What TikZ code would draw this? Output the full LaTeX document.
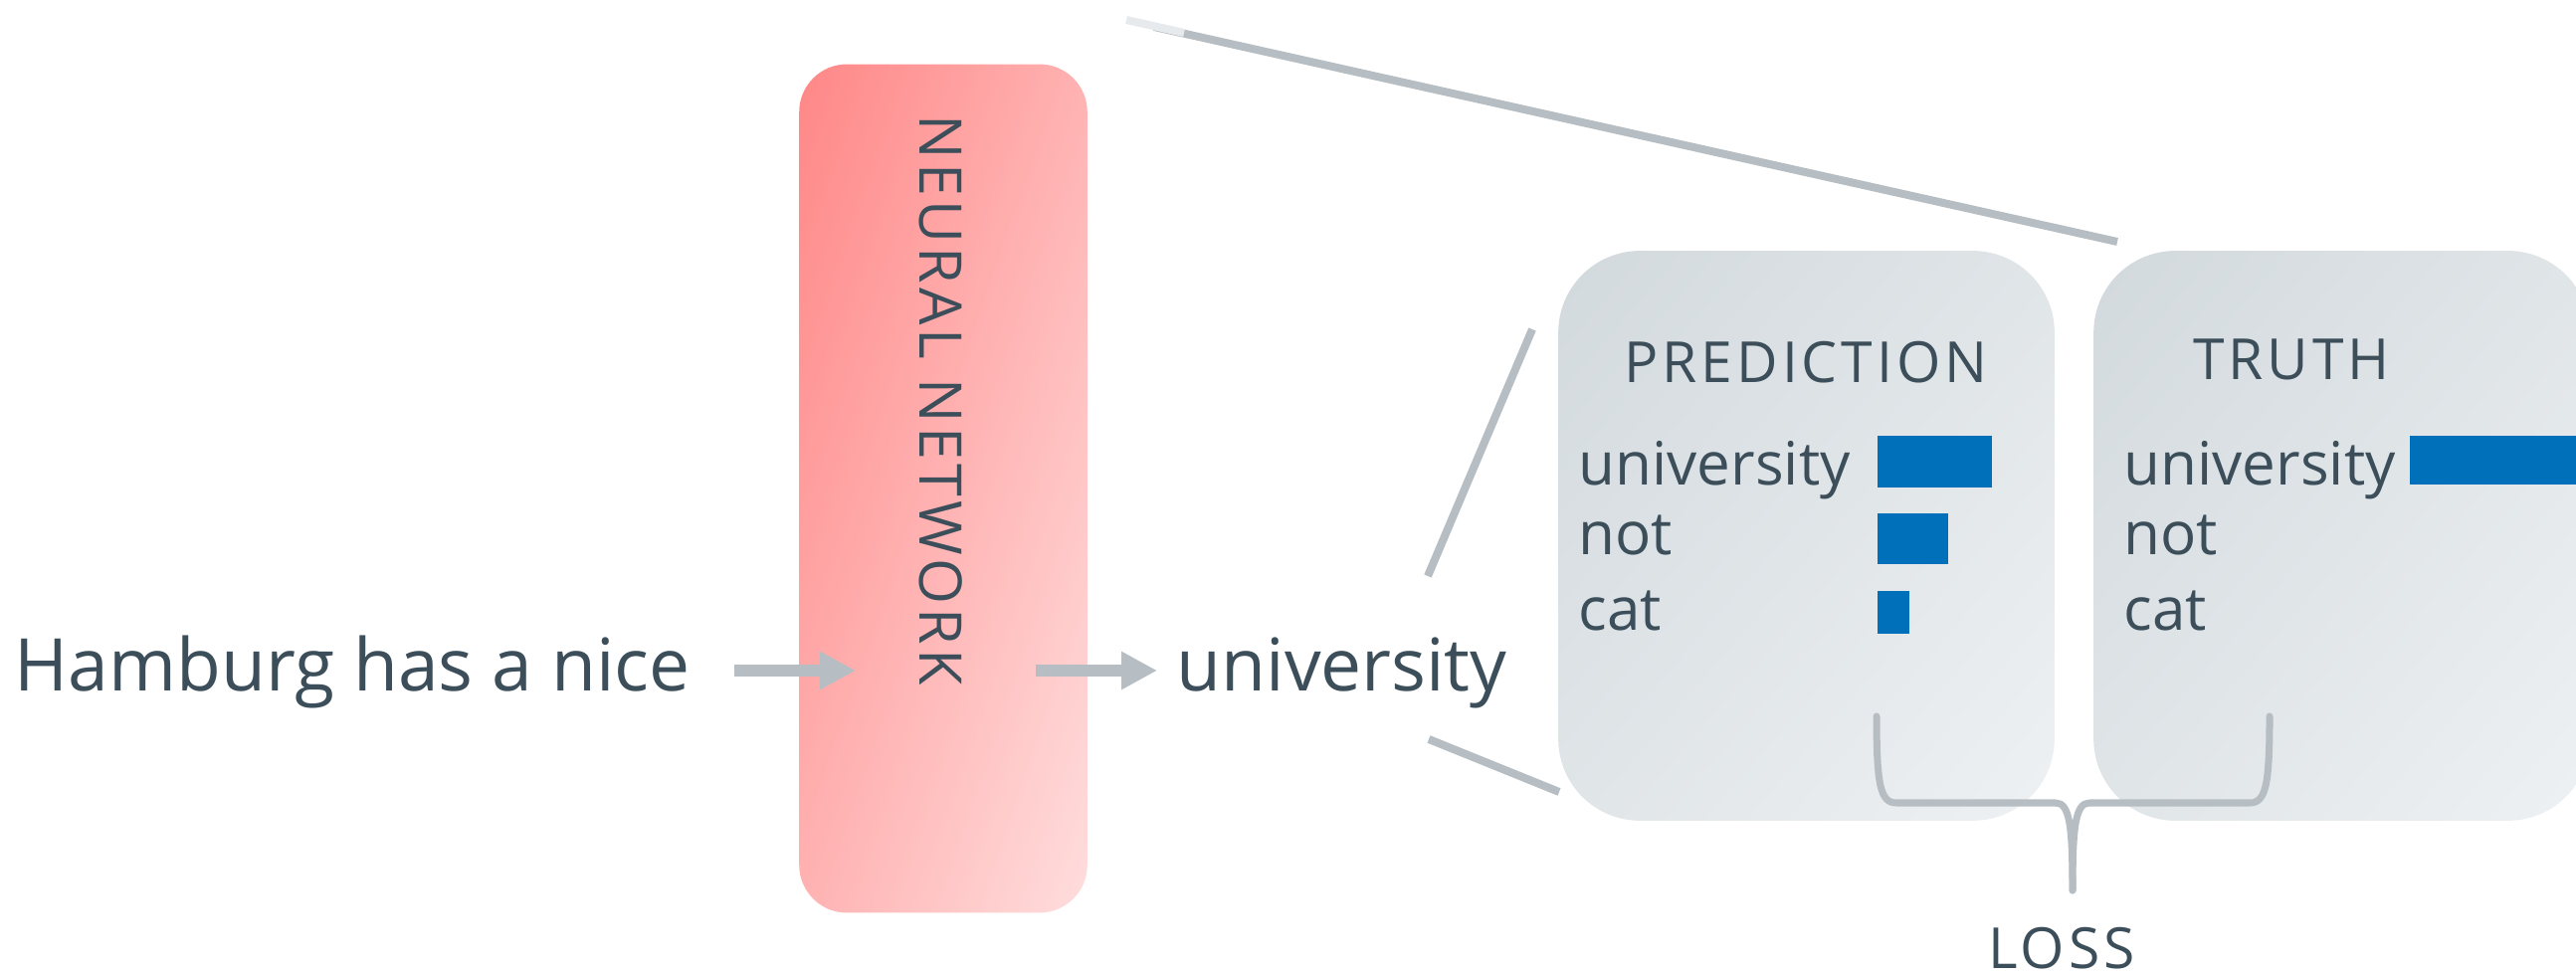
\documentclass[tikz,border=0pt]{standalone}
\usepackage{fontspec}
\setmainfont{Open Sans}
\newfontfamily\capsfont[LetterSpace=7]{Open Sans}
\usetikzlibrary{arrows.meta}

\definecolor{ink}{HTML}{3C4E5A}
\definecolor{wire}{HTML}{B6BEC3}
\definecolor{wirefade}{HTML}{E6EAEC}
\definecolor{barblue}{HTML}{0070BA}
\definecolor{nnA}{HTML}{FF8787}
\definecolor{nnB}{HTML}{FFDDDD}
\definecolor{boxA}{HTML}{D2D9DD}
\definecolor{boxB}{HTML}{EEF1F3}

\begin{document}
\begin{tikzpicture}[x=0.01cm,y=-0.01cm,
  txt/.style={inner sep=0pt, text=ink, anchor=base west},
  bigtxt/.style={txt, font=\fontsize{20.8pt}{24pt}\selectfont},
  rowtxt/.style={txt, font=\fontsize{17.1pt}{20pt}\selectfont},
  headtxt/.style={inner sep=0pt, text=ink, anchor=base, font=\capsfont\fontsize{16.2pt}{19pt}\selectfont},
  panel/.style={rectangle, minimum width=4.97cm, minimum height=5.71cm, inner sep=0pt},
  netbox/.style={rectangle, minimum width=2.88cm, minimum height=8.51cm, inner sep=0pt},
  flow/.style={wire, line width=0.12cm, -{Triangle[length=0.36cm, width=0.36cm]}},
  zoomline/.style={wire, line width=0.08cm},
  bracket/.style={wire, line width=0.07cm, line cap=round, line join=round},
  bar/.style={fill=barblue}
]
\useasboundingbox (0,0) rectangle (2589,980);

% neural network block: diagonal gradient from the top-left to the bottom-right corner
\node[netbox] (nn) at (948,491) {};
\begin{scope}
  \clip[rounded corners=0.48cm] (nn.south west) rectangle (nn.north east);
  \begin{scope}[transform canvas={rotate around={-18.7:(nn.center)}}]
    \shade[left color=nnA, right color=nnB] (675,42) rectangle (1221,940);
  \end{scope}
\end{scope}
\node[inner sep=0pt, text=ink, anchor=west, rotate=-90,
      font=\capsfont\fontsize{16.8pt}{19pt}\selectfont] (nnlabel) at (946,115) {NEURAL NETWORK};

% input and output words
\node[bigtxt] (input) at (14,695) {Hamburg has a nice};
\node[bigtxt] (output) at (1182,695) {university};

\coordinate (a1s) at (738,674);
\coordinate (a1e) at (860,674);
\coordinate (a2s) at (1041,674);
\coordinate (a2e) at (1163,674);
\draw[flow] (a1s) -- (a1e);
\draw[flow] (a2s) -- (a2e);

% long line across the top
\coordinate (t1) at (1160,27);
\coordinate (t2) at (2128,243);
\coordinate (t0) at (1132,20);
\coordinate (t0b) at (1190,33);
\draw[zoomline] (t1) -- (t2);
\draw[wirefade, line width=0.08cm] (t0) -- (t0b);

% prediction and truth panels, each with its own diagonal gradient
\node[panel] (pred) at (1815.5,538.5) {};
\node[panel] (truth) at (2353.5,538.5) {};
\begin{scope}
  \clip[rounded corners=0.82cm] (pred.south west) rectangle (pred.north east);
  \begin{scope}[transform canvas={rotate around={-41:(pred.center)}}]
    \shade[left color=boxA, right color=boxB] (1440,159) rectangle (2191,918);
  \end{scope}
\end{scope}
\begin{scope}
  \clip[rounded corners=0.82cm] (truth.south west) rectangle (truth.north east);
  \begin{scope}[transform canvas={rotate around={-41:(truth.center)}}]
    \shade[left color=boxA, right color=boxB] (1978,159) rectangle (2729,918);
  \end{scope}
\end{scope}

% lines from the output word to the prediction panel
\coordinate (z1a) at (1435,579);
\coordinate (z1b) at (1540,331);
\coordinate (z2a) at (1436,743);
\coordinate (z2b) at (1567,796);
\draw[zoomline] (z1a) -- (z1b);
\draw[zoomline] (z2a) -- (z2b);

% panel headings
\node[headtxt] (predhead) at (1815,385) {PREDICTION};
\node[headtxt] (truthhead) at (2303,382) {TRUTH};

% prediction rows
\node[rowtxt] (p1) at (1586,488) {university};
\node[rowtxt] (p2) at (1586,558) {not};
\node[rowtxt] (p3) at (1586,634) {cat};
\fill[bar] (1887,438) rectangle (2002,490);
\fill[bar] (1887,516) rectangle (1958,567);
\fill[bar] (1887,594) rectangle (1919,637);

% truth rows
\node[rowtxt] (q1) at (2134,488) {university};
\node[rowtxt] (q2) at (2134,558) {not};
\node[rowtxt] (q3) at (2134,634) {cat};
\fill[bar] (2422,438) rectangle (2600,487);

% bracket joining both panels into the loss
\coordinate (bl) at (1886,720);
\coordinate (br) at (2281,720);
\coordinate (bm) at (2083,895);
\draw[bracket] (bl) .. controls (1886,790) and (1890,807) .. (1906,807)
  -- (2066,807) .. controls (2080,807) and (2083,830) .. (bm);
\draw[bracket] (br) .. controls (2281,790) and (2277,807) .. (2261,807)
  -- (2100,807) .. controls (2086,807) and (2083,830) .. (bm);

\node[headtxt] (loss) at (2072,973) {LOSS};
\end{tikzpicture}
\end{document}
